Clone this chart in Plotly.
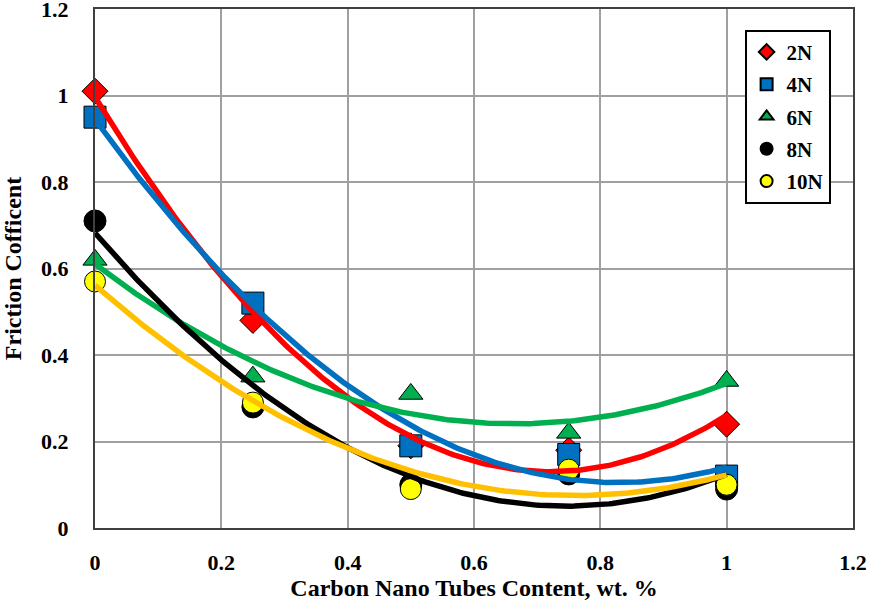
import numpy as np
import plotly.graph_objects as go

x_vals = [0, 0.25, 0.5, 0.75, 1.0]
series_names = ["2N", "4N", "6N", "8N", "10N"]
y_2N = [1.01, 0.48, 0.19, 0.18, 0.24]
y_4N = [0.95, 0.52, 0.19, 0.17, 0.12]
y_6N = [0.62, 0.35, 0.31, 0.22, 0.34]
y_8N = [0.71, 0.28, 0.10, 0.125, 0.09]
y_10N = [0.57, 0.29, 0.09, 0.135, 0.10]

x_ticks = [0, 0.2, 0.4, 0.6, 0.8, 1, 1.2]
y_ticks = [0, 0.2, 0.4, 0.6, 0.8, 1, 1.2]

series_y = [y_2N, y_4N, y_6N, y_8N, y_10N]
marker_syms = ["diamond", "square", "triangle-up", "circle", "circle"]
marker_cols = ["#FF0000", "#0070C0", "#00B050", "#000000", "#FFFF00"]
line_cols = ["#FF0000", "#0070C0", "#00B050", "#000000", "#FFC000"]
marker_sizes = [20, 22, 21, 22, 21]

font_family = "Liberation Serif, Times New Roman, serif"

fig = go.Figure()
for i, (name, ys) in enumerate(zip(series_names, series_y)):
    fig.add_trace(go.Scatter(
        x=x_vals, y=ys, mode="markers", name=name,
        legendgroup=name, cliponaxis=False,
        marker=dict(symbol=marker_syms[i], color=marker_cols[i], size=marker_sizes[i],
                    line=dict(color="black", width=1)),
    ))

xx = np.linspace(0, 1, 200)
for i, (name, ys) in enumerate(zip(series_names, series_y)):
    c = np.polyfit(x_vals, ys, 2)
    fig.add_trace(go.Scatter(
        x=xx, y=np.polyval(c, xx), mode="lines", showlegend=False,
        line=dict(color=line_cols[i], width=5.5), hoverinfo="skip",
    ))

fig.update_layout(
    width=871, height=604,
    margin=dict(l=95, r=18, t=9, b=76, autoexpand=False),
    paper_bgcolor="white", plot_bgcolor="white",
    font=dict(family=font_family, size=24, color="black"),
    legend=dict(
        x=0.857, y=0.96, xanchor="left", yanchor="top",
        bordercolor="black", borderwidth=2, bgcolor="white",
        font=dict(family=font_family, size=21, color="black", weight="bold"),
        itemsizing="constant", tracegroupgap=2,
    ),
    showlegend=True,
)
fig.update_xaxes(
    range=[0, 1.2001], tickvals=x_ticks, ticktext=[f"{v:g}" for v in x_ticks],
    showgrid=True, gridcolor="#A0A0A0", gridwidth=1.5,
    showline=True, linecolor="#404040", linewidth=2, mirror=True,
    zeroline=False, ticks="", ticklabelstandoff=14, automargin=False,
    ticklabeloverflow="allow",
    tickfont=dict(family=font_family, size=22, weight="bold"),
    title=dict(text="<b>Carbon Nano Tubes Content, wt. %</b>", standoff=0,
               font=dict(family=font_family, size=24)),
)
fig.update_yaxes(
    range=[0, 1.2001], tickvals=y_ticks, ticktext=[f"{v:g}" for v in y_ticks],
    showgrid=True, gridcolor="#A0A0A0", gridwidth=1.5,
    showline=True, linecolor="#404040", linewidth=2, mirror=True,
    zeroline=False, ticks="", ticklabelstandoff=20, automargin=False,
    ticklabeloverflow="allow",
    tickfont=dict(family=font_family, size=22, weight="bold"),
    title=dict(text="<b>Friction Cofficent</b>", standoff=16,
               font=dict(family=font_family, size=24)),
)

fig.write_html("out.html", config={"displayModeBar": False},
               post_script="document.body.style.margin='0';")
